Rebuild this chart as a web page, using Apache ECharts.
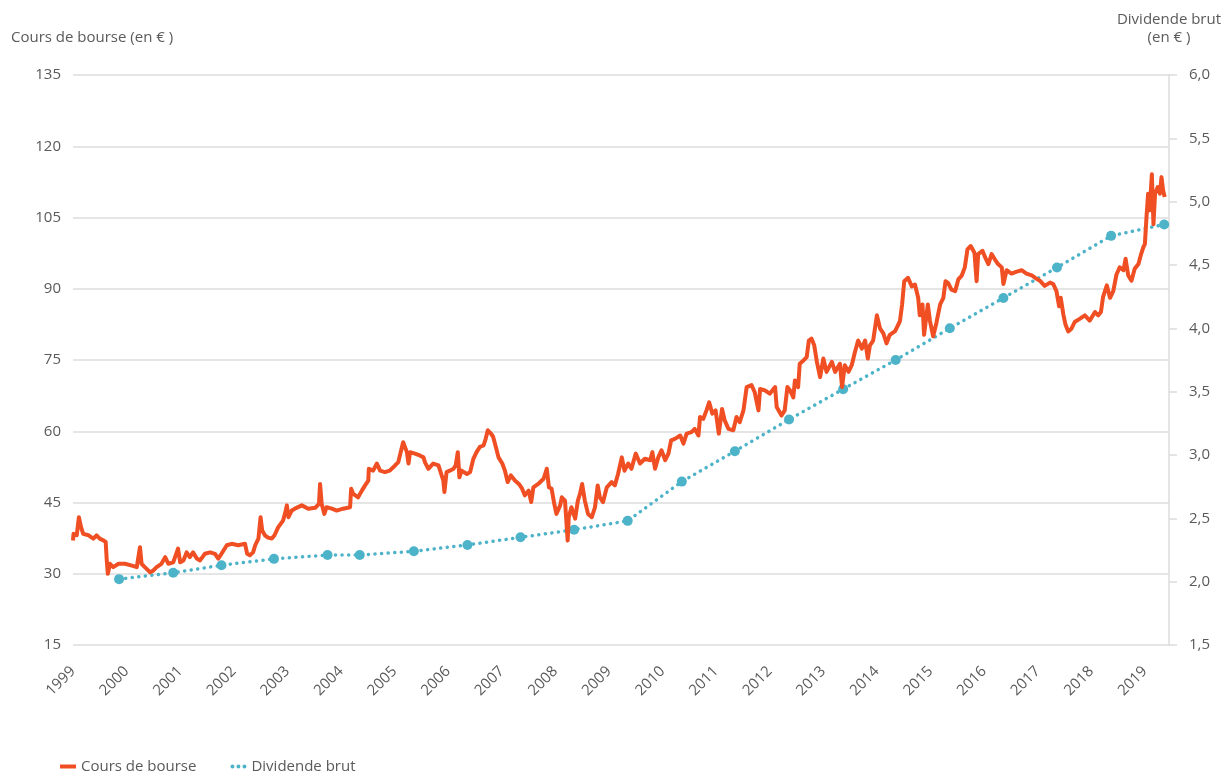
<!DOCTYPE html>
<html lang="fr">
<head>
    <meta charset="UTF-8">
    <title>Cours de bourse et dividende brut</title>
    <script src="https://cdn.jsdelivr.net/npm/echarts@6/dist/echarts.min.js"></script>
    <style type="text/css">
        html, body { height: 100%; margin: 0; background: #ffffff; }
        #main { width: 1226px; height: 774px; }
    </style>
</head>
<body>
    <div id="main"></div>
    <script type="text/javascript">
        // axes
        var yearTicks = [1999, 2019];
        var priceAxis = { min: 15, max: 135, step: 15 };
        var dividendAxis = { min: 1.5, max: 6.0, step: 0.5 };

        // cours de bourse : [année décimale, cours en €]
        var pricePoints = [
            [1999.00, 37.0], [1999.01, 38.4], [1999.07, 38.1], [1999.11, 41.9], [1999.15, 39.8],
            [1999.19, 38.4], [1999.29, 38.1], [1999.38, 37.4], [1999.44, 38.1], [1999.50, 37.4],
            [1999.57, 37.0], [1999.61, 36.7], [1999.63, 32.8], [1999.65, 30.0], [1999.69, 32.1],
            [1999.75, 31.4], [1999.85, 32.1], [1999.97, 32.1], [2000.10, 31.7], [2000.19, 31.4],
            [2000.25, 35.6], [2000.28, 32.1], [2000.34, 31.4], [2000.44, 30.3], [2000.50, 30.7],
            [2000.56, 31.4], [2000.65, 32.1], [2000.72, 33.5], [2000.78, 32.1], [2000.87, 32.4],
            [2000.96, 35.3], [2001.00, 32.4], [2001.06, 32.8], [2001.12, 34.5], [2001.18, 33.5],
            [2001.24, 34.5], [2001.31, 33.2], [2001.37, 32.8], [2001.46, 34.2], [2001.56, 34.5],
            [2001.65, 34.2], [2001.71, 33.2], [2001.77, 34.2], [2001.87, 36.0], [2001.96, 36.3],
            [2002.08, 36.0], [2002.21, 36.3], [2002.25, 34.2], [2002.30, 33.9], [2002.36, 34.5],
            [2002.40, 36.0], [2002.46, 37.4], [2002.50, 41.9], [2002.53, 39.1], [2002.58, 38.1],
            [2002.64, 37.6], [2002.71, 37.4], [2002.76, 38.1], [2002.83, 39.8], [2002.92, 41.2],
            [2002.97, 43.3], [2002.99, 44.4], [2003.02, 41.9], [2003.08, 43.3], [2003.14, 43.7],
            [2003.27, 44.4], [2003.39, 43.7], [2003.52, 43.9], [2003.59, 44.7], [2003.61, 48.9],
            [2003.64, 44.7], [2003.69, 42.6], [2003.73, 44.0], [2003.83, 43.7], [2003.92, 43.3],
            [2004.04, 43.7], [2004.17, 44.0], [2004.19, 47.9], [2004.23, 46.8], [2004.32, 46.1],
            [2004.39, 47.5], [2004.45, 48.6], [2004.51, 49.6], [2004.52, 52.1], [2004.60, 51.7],
            [2004.67, 53.2], [2004.73, 51.7], [2004.82, 51.4], [2004.91, 51.7], [2005.01, 52.8],
            [2005.07, 53.5], [2005.13, 56.3], [2005.16, 57.7], [2005.23, 55.6], [2005.26, 53.2],
            [2005.29, 55.6], [2005.38, 55.3], [2005.47, 54.9], [2005.54, 54.5], [2005.57, 53.4],
            [2005.63, 52.1], [2005.72, 53.2], [2005.82, 52.8], [2005.85, 51.7], [2005.91, 49.6],
            [2005.93, 47.2], [2005.97, 51.4], [2006.03, 51.7], [2006.10, 52.1], [2006.14, 52.8],
            [2006.18, 55.6], [2006.21, 50.3], [2006.25, 51.7], [2006.35, 51.0], [2006.41, 51.4],
            [2006.47, 54.2], [2006.53, 55.6], [2006.59, 56.7], [2006.66, 57.0], [2006.70, 58.4],
            [2006.74, 60.2], [2006.80, 59.5], [2006.84, 58.8], [2006.89, 56.7], [2006.94, 54.5],
            [2007.01, 53.2], [2007.06, 51.7], [2007.11, 49.3], [2007.17, 50.7], [2007.25, 49.6],
            [2007.32, 48.9], [2007.38, 47.9], [2007.43, 46.5], [2007.50, 47.5], [2007.55, 45.1],
            [2007.59, 48.2], [2007.68, 48.9], [2007.78, 50.0], [2007.84, 52.1], [2007.88, 48.2],
            [2007.93, 47.9], [2007.98, 44.7], [2008.02, 42.6], [2008.09, 44.4], [2008.12, 46.1],
            [2008.18, 45.4], [2008.23, 37.0], [2008.25, 41.9], [2008.30, 44.0], [2008.37, 41.6],
            [2008.42, 45.4], [2008.46, 46.8], [2008.50, 48.9], [2008.55, 45.4], [2008.61, 42.6],
            [2008.68, 41.9], [2008.74, 44.0], [2008.79, 48.6], [2008.83, 46.1], [2008.89, 45.1],
            [2008.96, 48.2], [2009.05, 49.3], [2009.11, 48.6], [2009.17, 51.0], [2009.24, 54.5],
            [2009.29, 51.7], [2009.36, 53.2], [2009.42, 52.1], [2009.50, 55.3], [2009.58, 53.2],
            [2009.67, 54.2], [2009.77, 53.9], [2009.81, 55.6], [2009.86, 52.1], [2009.92, 54.5],
            [2009.98, 56.0], [2010.05, 53.9], [2010.11, 55.3], [2010.16, 58.1], [2010.23, 58.4],
            [2010.33, 59.1], [2010.39, 57.4], [2010.45, 59.5], [2010.54, 59.8], [2010.60, 60.5],
            [2010.67, 59.1], [2010.70, 63.0], [2010.76, 62.6], [2010.82, 64.4], [2010.87, 66.1],
            [2010.93, 63.7], [2010.99, 64.4], [2011.05, 59.5], [2011.11, 64.7], [2011.16, 62.3],
            [2011.23, 60.5], [2011.32, 60.2], [2011.38, 63.0], [2011.44, 61.9], [2011.51, 64.4],
            [2011.57, 69.3], [2011.66, 69.7], [2011.72, 68.2], [2011.79, 64.4], [2011.82, 68.9],
            [2011.91, 68.6], [2012.00, 67.9], [2012.10, 69.3], [2012.13, 65.1], [2012.22, 63.3],
            [2012.28, 64.4], [2012.33, 69.3], [2012.38, 68.6], [2012.44, 67.1], [2012.47, 70.7],
            [2012.53, 69.3], [2012.56, 74.2], [2012.63, 74.9], [2012.69, 75.6], [2012.73, 79.1],
            [2012.78, 79.5], [2012.83, 78.1], [2012.88, 74.6], [2012.94, 71.4], [2013.00, 75.3],
            [2013.06, 72.5], [2013.16, 74.6], [2013.22, 72.5], [2013.31, 74.2], [2013.35, 69.3],
            [2013.40, 73.9], [2013.47, 72.5], [2013.53, 73.9], [2013.59, 76.7], [2013.65, 79.1],
            [2013.72, 77.4], [2013.78, 79.1], [2013.83, 75.3], [2013.87, 78.1], [2013.93, 79.1],
            [2014.00, 84.4], [2014.06, 81.6], [2014.12, 80.6], [2014.18, 78.5], [2014.24, 80.3],
            [2014.34, 81.1], [2014.43, 83.2], [2014.47, 86.7], [2014.51, 91.6], [2014.58, 92.3],
            [2014.65, 90.5], [2014.71, 90.9], [2014.77, 88.1], [2014.80, 84.4], [2014.85, 86.7],
            [2014.88, 80.3], [2014.95, 86.7], [2014.99, 83.2], [2015.05, 80.0], [2015.11, 82.8],
            [2015.18, 86.7], [2015.24, 88.1], [2015.28, 91.6], [2015.33, 91.2], [2015.39, 89.8],
            [2015.46, 89.5], [2015.52, 92.0], [2015.58, 92.7], [2015.64, 94.5], [2015.69, 98.3],
            [2015.75, 99.0], [2015.82, 97.6], [2015.86, 91.6], [2015.89, 97.3], [2015.97, 98.0],
            [2016.02, 96.6], [2016.08, 95.2], [2016.14, 97.3], [2016.20, 96.2], [2016.26, 95.2],
            [2016.33, 94.5], [2016.36, 91.0], [2016.42, 93.9], [2016.51, 93.2], [2016.61, 93.6],
            [2016.70, 93.9], [2016.79, 93.2], [2016.89, 92.8], [2016.98, 92.1], [2017.04, 91.7],
            [2017.13, 90.6], [2017.23, 91.3], [2017.29, 91.0], [2017.35, 89.5], [2017.40, 86.3],
            [2017.43, 88.1], [2017.48, 84.5], [2017.52, 82.4], [2017.57, 81.0], [2017.63, 81.6],
            [2017.69, 83.0], [2017.79, 83.7], [2017.88, 84.4], [2017.97, 83.3], [2018.07, 85.1],
            [2018.13, 84.4], [2018.18, 85.1], [2018.22, 88.3], [2018.29, 90.7], [2018.35, 88.1],
            [2018.41, 89.5], [2018.47, 93.0], [2018.53, 94.5], [2018.60, 93.9], [2018.64, 96.3],
            [2018.69, 92.8], [2018.75, 91.7], [2018.81, 94.2], [2018.88, 95.2], [2018.93, 97.3],
            [2018.97, 98.7], [2019.00, 99.4], [2019.03, 105.1], [2019.06, 110.0], [2019.09, 106.5],
            [2019.13, 114.1], [2019.16, 103.6], [2019.19, 110.0], [2019.24, 111.4], [2019.28, 110.0],
            [2019.31, 113.5], [2019.34, 110.7], [2019.37, 109.3]
        ];

        // dividende brut (en €)
        var dividendYears = [1999.86, 2000.87, 2001.77, 2002.75, 2003.75, 2004.35, 2005.36,
            2006.36, 2007.35, 2008.35, 2009.35, 2010.36, 2011.35, 2012.36, 2013.37, 2014.35,
            2015.36, 2016.36, 2017.36, 2018.37, 2019.36];
        var dividendValues = [2.02, 2.07, 2.13, 2.18, 2.21, 2.21, 2.24,
            2.29, 2.35, 2.41, 2.48, 2.79, 3.03, 3.28, 3.52, 3.75,
            4.00, 4.24, 4.48, 4.73, 4.82];

        var textColor = '#5a5a5a';
        var fontName = 'Open Sans';

        function loadChart() {
            var myChart = echarts.init(document.getElementById('main'));

            var dividendData = dividendYears.map(function (y, i) {
                return [y, dividendValues[i]];
            });

            var option = {
                animation: false,
                backgroundColor: '#ffffff',
                textStyle: { fontFamily: fontName },
                title: {
                    text: 'Cours de bourse (en € )',
                    left: 6,
                    top: 25,
                    textStyle: { fontFamily: fontName, fontSize: 15, fontWeight: 'normal', color: textColor }
                },
                legend: {
                    left: 60,
                    top: 759,
                    itemWidth: 16,
                    itemHeight: 4,
                    itemGap: 34,
                    padding: 0,
                    textStyle: { fontFamily: fontName, fontSize: 15, color: textColor },
                    data: [
                        { name: 'Cours de bourse', icon: 'rect' },
                        { name: 'Dividende brut',
                          icon: 'path://M2,0a2,2 0 1,1 0,4a2,2 0 1,1 0,-4zM8,0a2,2 0 1,1 0,4a2,2 0 1,1 0,-4zM14,0a2,2 0 1,1 0,4a2,2 0 1,1 0,-4z' }
                    ]
                },
                grid: { left: 73, right: 57, top: 75, bottom: 129 },
                xAxis: {
                    type: 'value',
                    min: yearTicks[0],
                    max: 2019.45,
                    interval: 1,
                    axisLine: { show: false },
                    axisTick: { show: false },
                    splitLine: { show: false },
                    axisLabel: {
                        rotate: 45,
                        margin: 24,
                        fontSize: 15,
                        color: textColor,
                        showMaxLabel: false,
                        formatter: function (v) {
                            return (Number.isInteger(v) && v <= yearTicks[1]) ? String(v) : '';
                        }
                    }
                },
                yAxis: [{
                    type: 'value',
                    min: priceAxis.min,
                    max: priceAxis.max,
                    interval: priceAxis.step,
                    axisLine: { show: false },
                    axisTick: { show: false },
                    axisLabel: { margin: 12, fontSize: 15, color: textColor },
                    splitLine: { lineStyle: { color: '#dcdcdc', width: 1.5 } }
                }, {
                    type: 'value',
                    position: 'right',
                    min: dividendAxis.min,
                    max: dividendAxis.max,
                    interval: dividendAxis.step,
                    name: 'Dividende brut\n(en € )',
                    nameLocation: 'end',
                    nameGap: 28,
                    nameTextStyle: { fontFamily: fontName, fontSize: 15, color: textColor, lineHeight: 18 },
                    axisLine: { show: true, lineStyle: { color: '#dcdcdc', width: 1.5 } },
                    axisTick: { show: true, length: 8, lineStyle: { color: '#dcdcdc', width: 1.5 } },
                    axisLabel: {
                        margin: 20, fontSize: 15, color: textColor,
                        formatter: function (v) { return v.toFixed(1).replace('.', ','); }
                    },
                    splitLine: { show: false }
                }],
                series: [{
                    name: 'Cours de bourse',
                    type: 'line',
                    yAxisIndex: 0,
                    data: pricePoints,
                    symbol: 'none',
                    color: '#f04e23',
                    lineStyle: { color: '#f04e23', width: 4, join: 'round' },
                    z: 3
                }, {
                    name: 'Dividende brut',
                    type: 'line',
                    yAxisIndex: 1,
                    data: dividendData,
                    symbol: 'circle',
                    symbolSize: 10,
                    color: '#4db3c8',
                    itemStyle: { color: '#4db3c8' },
                    lineStyle: { color: '#4db3c8', width: 3.5, type: [0.1, 6.5], cap: 'round' },
                    z: 2
                }]
            };

            myChart.setOption(option);
        }

        loadChart();
    </script>
</body>
</html>
